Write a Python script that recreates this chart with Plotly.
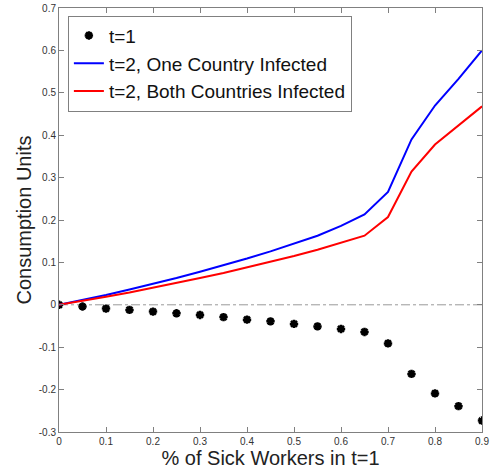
import plotly.graph_objects as go

x_vals = [0, 0.05, 0.1, 0.15, 0.2, 0.25, 0.3, 0.35, 0.4, 0.45, 0.5, 0.55, 0.6, 0.65, 0.7, 0.75, 0.8, 0.85, 0.9]
t1_vals = [0, -0.004, -0.009, -0.012, -0.016, -0.020, -0.024, -0.029, -0.035, -0.039, -0.045, -0.051, -0.057, -0.064, -0.091, -0.163, -0.209, -0.239, -0.273]
one_country = [0, 0.011, 0.023, 0.036, 0.049, 0.063, 0.078, 0.093, 0.109, 0.126, 0.144, 0.163, 0.186, 0.213, 0.266, 0.390, 0.470, 0.533, 0.600]
both_countries = [0, 0.009, 0.019, 0.029, 0.040, 0.051, 0.063, 0.075, 0.088, 0.101, 0.115, 0.130, 0.146, 0.163, 0.207, 0.314, 0.378, 0.423, 0.468]

x_ticks = [0, 0.1, 0.2, 0.3, 0.4, 0.5, 0.6, 0.7, 0.8, 0.9]
x_tick_text = ["0", "0.1", "0.2", "0.3", "0.4", "0.5", "0.6", "0.7", "0.8", "0.9"]
y_ticks = [-0.3, -0.2, -0.1, 0, 0.1, 0.2, 0.3, 0.4, 0.5, 0.6, 0.7]
y_tick_text = ["-0.3", "-0.2", "-0.1", "0", "0.1", "0.2", "0.3", "0.4", "0.5", "0.6", "0.7"]

FONT = "Liberation Sans, Arial, Helvetica, sans-serif"

fig = go.Figure()
fig.add_trace(go.Scatter(x=[0, 0.9], y=[0, 0], mode="lines",
                         line=dict(color="#999999", width=1, dash="dashdot"),
                         showlegend=False, hoverinfo="skip"))
fig.add_trace(go.Scatter(x=x_vals, y=t1_vals, mode="markers", name="t=1",
                         marker=dict(symbol="asterisk-open", size=7, color="black",
                                     line=dict(color="black", width=2.5))))
fig.add_trace(go.Scatter(x=x_vals, y=one_country, mode="lines", name="t=2, One Country Infected",
                         line=dict(color="#0000ff", width=2)))
fig.add_trace(go.Scatter(x=x_vals, y=both_countries, mode="lines", name="t=2, Both Countries Infected",
                         line=dict(color="#ff0000", width=2)))

axis_common = dict(showline=True, linecolor="#808080", linewidth=1, mirror="ticks",
                   ticks="inside", ticklen=5, tickcolor="#808080", showgrid=False,
                   zeroline=False, tickfont=dict(size=10, color="#333333", family=FONT))

fig.update_xaxes(range=[0, 0.9], tickvals=x_ticks, ticktext=x_tick_text,
                 title=dict(text="% of Sick Workers in t=1", font=dict(size=20, color="#222222", family=FONT),
                            standoff=4),
                 **axis_common)
fig.update_yaxes(range=[-0.3, 0.7], tickvals=y_ticks, ticktext=y_tick_text,
                 title=dict(text="Consumption Units", font=dict(size=20, color="#222222", family=FONT),
                            standoff=1),
                 **axis_common)

fig.update_layout(
    width=491, height=474,
    margin=dict(l=59, r=9, t=8, b=42, autoexpand=False),
    plot_bgcolor="white", paper_bgcolor="white",
    font=dict(family=FONT, color="#222222"),
    legend=dict(x=0.021, y=0.982, xanchor="left", yanchor="top",
                bgcolor="white", bordercolor="#808080", borderwidth=1,
                font=dict(size=19, family=FONT, color="#111111"),
                tracegroupgap=0, itemwidth=30),
)

fig.write_html("out.html")
